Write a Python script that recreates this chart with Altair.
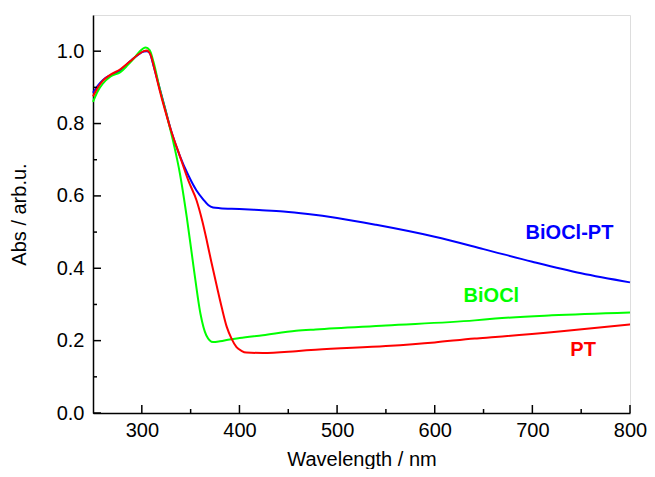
import altair as alt
import pandas as pd

# ---- data ----
wl_pt_bi = [250, 255, 260, 268, 278, 288, 296, 302, 305, 308, 312, 318, 324, 330, 339, 348, 356, 363, 368, 373, 380, 400, 420, 445, 470, 500, 540, 600, 650, 700, 750, 800]
abs_biocl_pt = [0.885, 0.905, 0.92, 0.934, 0.947, 0.972, 0.99, 0.999, 1.0, 0.995, 0.96, 0.9, 0.84, 0.78, 0.71, 0.655, 0.615, 0.59, 0.575, 0.568, 0.566, 0.564, 0.561, 0.557, 0.55, 0.539, 0.52, 0.487, 0.453, 0.418, 0.386, 0.361]

wl_bi = [250, 255, 260, 268, 278, 285, 292, 298, 304, 308, 312, 318, 326, 333, 339, 346, 353, 360, 366, 373, 380, 390, 400, 424, 458, 478, 550, 641, 662, 720, 800]
abs_biocl = [0.86, 0.89, 0.91, 0.93, 0.942, 0.96, 0.98, 1.0, 1.01, 1.003, 0.97, 0.9, 0.818, 0.74, 0.662, 0.542, 0.404, 0.275, 0.215, 0.196, 0.198, 0.203, 0.207, 0.215, 0.227, 0.231, 0.242, 0.256, 0.261, 0.27, 0.278]

wl_pt = [250, 255, 260, 268, 278, 288, 296, 302, 305, 309, 313, 318, 324, 330, 339, 348, 356, 362, 366.5, 371, 377, 382, 387, 392, 397, 402, 407, 424, 458, 478, 550, 600, 641, 662, 730, 800]
abs_pt = [0.875, 0.9, 0.918, 0.935, 0.95, 0.972, 0.99, 1.0, 1.002, 0.99, 0.95, 0.895, 0.835, 0.78, 0.71, 0.64, 0.588, 0.53, 0.477, 0.42, 0.348, 0.29, 0.238, 0.205, 0.182, 0.172, 0.167, 0.166, 0.171, 0.175, 0.185, 0.195, 0.206, 0.21, 0.226, 0.245]

series_names = ["BiOCl-PT", "BiOCl", "PT"]
series_colors = ["#0000FF", "#00FF00", "#FF0000"]

label_text = ["BiOCl-PT", "BiOCl", "PT"]
label_x = [738, 658, 752]
label_y = [0.498, 0.323, 0.173]

x_major = [300, 400, 500, 600, 700, 800]
x_minor = [350, 450, 550, 650, 750]
y_major = [0.0, 0.2, 0.4, 0.6, 0.8, 1.0]
y_minor = [0.1, 0.3, 0.5, 0.7, 0.9]

# ---- build tables ----
rows = []
for name, wls, vals in [("BiOCl-PT", wl_pt_bi, abs_biocl_pt), ("BiOCl", wl_bi, abs_biocl), ("PT", wl_pt, abs_pt)]:
    for i, (w, v) in enumerate(zip(wls, vals)):
        rows.append({"series": name, "wl": w, "abs": v, "order": i})
df = pd.DataFrame(rows)
labels_df = pd.DataFrame({"label": label_text, "wl": label_x, "abs": label_y, "series": series_names})

W, H = 537, 398
FONT = "Liberation Sans"

xscale = alt.Scale(domain=[250, 800], nice=False, zero=False)
yscale = alt.Scale(domain=[0, 1.1], nice=False)
color = alt.Color("series:N", scale=alt.Scale(domain=series_names, range=series_colors), legend=None)

xaxis = alt.Axis(values=x_major, title="Wavelength / nm", tickSize=0, labelPadding=7, grid=False,
                 domainColor="black", domainWidth=1.5, labelFontSize=20, titleFontSize=20,
                 labelFont=FONT, titleFont=FONT, titleFontWeight="normal", labelColor="black",
                 titleColor="black", titlePadding=9, labelFlush=False)
yaxis = alt.Axis(values=y_major, format=".1f", title="Abs / arb.u.", tickSize=0, labelPadding=9, grid=False,
                 domainColor="black", domainWidth=1.5, labelFontSize=20, titleFontSize=20,
                 labelFont=FONT, titleFont=FONT, titleFontWeight="normal", labelColor="black",
                 titleColor="black", titlePadding=27)

lines = alt.Chart(df).mark_line(strokeWidth=2, interpolate="monotone").encode(
    x=alt.X("wl:Q", scale=xscale, axis=xaxis),
    y=alt.Y("abs:Q", scale=yscale, axis=yaxis),
    color=color,
    detail="series:N",
    order="order:Q",
)

texts = alt.Chart(labels_df).mark_text(fontSize=20, fontWeight="bold", font=FONT, align="center", baseline="middle").encode(
    x=alt.X("wl:Q", scale=xscale),
    y=alt.Y("abs:Q", scale=yscale),
    text="label:N",
    color=color,
)

xt_major = alt.Chart(pd.DataFrame({"v": x_major})).mark_rule(color="black", strokeWidth=1.5).encode(
    x=alt.X("v:Q", scale=xscale), y=alt.value(H), y2=alt.value(H - 8))
xt_minor = alt.Chart(pd.DataFrame({"v": x_minor})).mark_rule(color="black", strokeWidth=1.5).encode(
    x=alt.X("v:Q", scale=xscale), y=alt.value(H), y2=alt.value(H - 4))
yt_major = alt.Chart(pd.DataFrame({"v": y_major})).mark_rule(color="black", strokeWidth=1.5).encode(
    y=alt.Y("v:Q", scale=yscale), x=alt.value(0), x2=alt.value(8))
yt_minor = alt.Chart(pd.DataFrame({"v": y_minor})).mark_rule(color="black", strokeWidth=1.5).encode(
    y=alt.Y("v:Q", scale=yscale), x=alt.value(0), x2=alt.value(4))

chart = alt.layer(lines, xt_major, xt_minor, yt_major, yt_minor, texts).properties(
    width=W, height=H,
    autosize=alt.AutoSizeParams(type="none"),
    padding={"left": 85, "top": 7, "right": 17, "bottom": 56},
).configure_view(stroke="black", strokeWidth=1.5).configure(background="white")

chart.save("out.html", embed_options={"renderer": "svg", "actions": False})
